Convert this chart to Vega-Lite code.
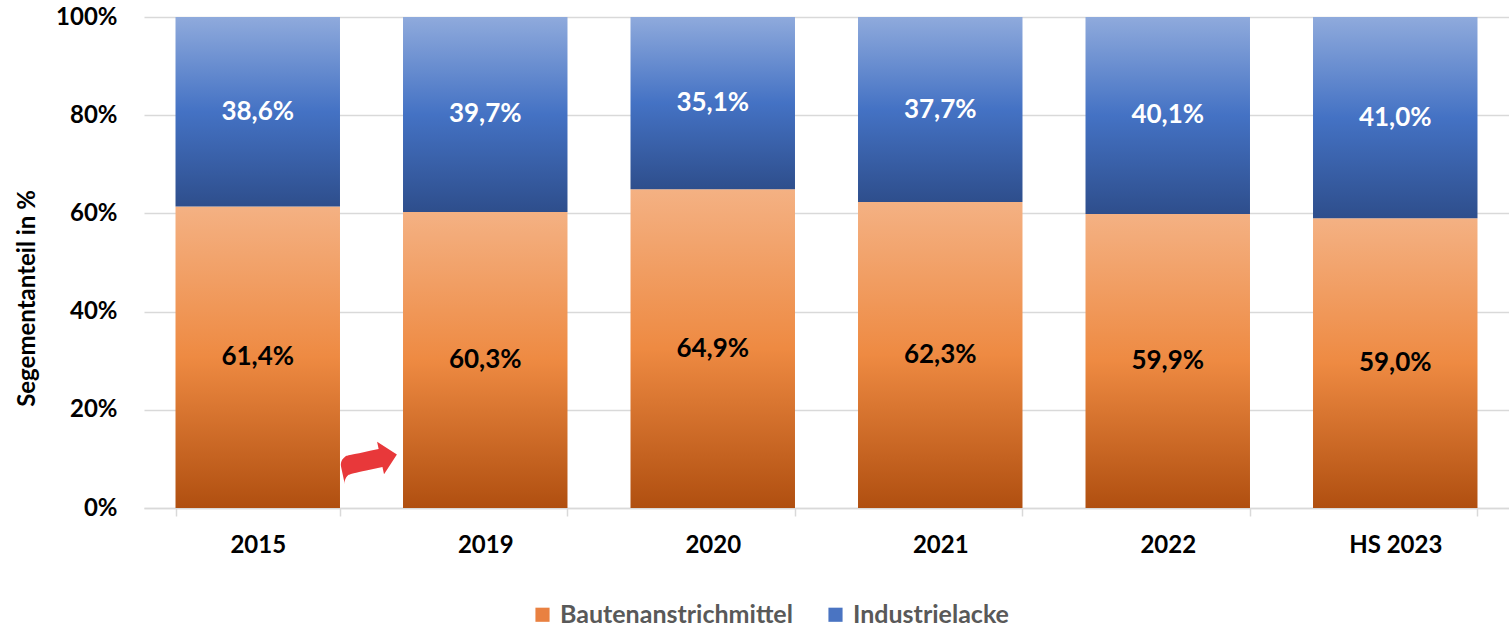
{
  "$schema": "https://vega.github.io/schema/vega-lite/v6.json",
  "width": 1365,
  "height": 491,
  "autosize": {"type": "none"},
  "padding": {"left": 144, "top": 17, "right": 0, "bottom": 121},
  "config": {
    "locale": {"number": {"decimal": ",", "thousands": ".", "grouping": [3], "currency": ["", " €"]}},
    "view": {"stroke": null},
    "font": "Lato"
  },
  "data": {
    "values": [
      {"year": "2015", "series": "Bautenanstrichmittel", "value": 0.614},
      {"year": "2015", "series": "Industrielacke", "value": 0.386},
      {"year": "2019", "series": "Bautenanstrichmittel", "value": 0.603},
      {"year": "2019", "series": "Industrielacke", "value": 0.397},
      {"year": "2020", "series": "Bautenanstrichmittel", "value": 0.649},
      {"year": "2020", "series": "Industrielacke", "value": 0.351},
      {"year": "2021", "series": "Bautenanstrichmittel", "value": 0.623},
      {"year": "2021", "series": "Industrielacke", "value": 0.377},
      {"year": "2022", "series": "Bautenanstrichmittel", "value": 0.599},
      {"year": "2022", "series": "Industrielacke", "value": 0.401},
      {"year": "HS 2023", "series": "Bautenanstrichmittel", "value": 0.590},
      {"year": "HS 2023", "series": "Industrielacke", "value": 0.410}
    ]
  },
  "encoding": {
    "x": {
      "field": "year",
      "type": "nominal",
      "sort": null,
      "scale": {"domain": ["2015", "2019", "2020", "2021", "2022", "HS 2023"], "paddingInner": 0.277, "paddingOuter": 0.1385},
      "axis": {
        "title": null,
        "labelAngle": 0,
        "labelFont": "Lato",
        "labelFontSize": 24,
        "labelFontWeight": "bold",
        "labelColor": "#000000",
        "labelBaseline": "top",
        "labelPadding": 17,
        "domainColor": "#D9D9D9",
        "domainWidth": 1.5,
        "tickColor": "#D9D9D9",
        "tickWidth": 1.5,
        "tickSize": 8,
        "tickBand": "extent",
        "grid": false
      }
    }
  },
  "layer": [
    {
      "mark": {"type": "square", "opacity": 0},
      "encoding": {
        "y": {
          "field": "value",
          "type": "quantitative",
          "scale": {"domain": [0, 1], "nice": false},
          "axis": {
            "title": "Segementanteil in %",
            "values": [0, 0.2, 0.4, 0.6, 0.8, 1],
            "format": ".0%",
            "grid": true,
            "gridColor": "#D9D9D9",
            "gridWidth": 1.5,
            "domain": false,
            "ticks": false,
            "labelFont": "Lato",
            "labelFontSize": 24,
            "labelFontWeight": "bold",
            "labelColor": "#000000",
            "labelPadding": 27,
            "titleFont": "Lato",
            "titleFontSize": 24,
            "titleFontWeight": "bold",
            "titleColor": "#000000",
            "titleAngle": -90,
            "titleX": -117,
            "titleY": 281,
            "titleAlign": "center",
            "titleBaseline": "middle"
          }
        },
        "fill": {
          "field": "series",
          "type": "nominal",
          "scale": {"domain": ["Bautenanstrichmittel", "Industrielacke"], "range": ["#E98141", "#4A74C2"]},
          "legend": {
            "title": null,
            "orient": "none",
            "direction": "horizontal",
            "legendX": 386,
            "legendY": 585,
            "symbolType": "square",
            "symbolSize": 200,
            "symbolStrokeWidth": 0,
            "symbolOpacity": 1,
            "labelFont": "Lato",
            "labelFontSize": 25,
            "labelFontWeight": "bold",
            "labelColor": "#595959",
            "labelOffset": 5,
            "columnPadding": 30,
            "labelLimit": 400
          }
        }
      }
    },
    {
      "transform": [
        {"stack": "value", "groupby": ["year"], "sort": [{"field": "series", "order": "ascending"}], "as": ["y0", "y1"]},
        {"filter": "datum.series === 'Bautenanstrichmittel'"}
      ],
      "mark": {"type": "bar", "color": {"gradient": "linear", "x1": 0, "y1": 0, "x2": 0, "y2": 1, "stops": [{"offset": 0, "color": "#F4B183"}, {"offset": 0.5, "color": "#EE8A42"}, {"offset": 1, "color": "#B04F10"}]}},
      "encoding": {
        "y": {"field": "y0", "type": "quantitative"},
        "y2": {"field": "y1"}
      }
    },
    {
      "transform": [
        {"stack": "value", "groupby": ["year"], "sort": [{"field": "series", "order": "ascending"}], "as": ["y0", "y1"]},
        {"filter": "datum.series === 'Industrielacke'"}
      ],
      "mark": {"type": "bar", "color": {"gradient": "linear", "x1": 0, "y1": 0, "x2": 0, "y2": 1, "stops": [{"offset": 0, "color": "#8FAADC"}, {"offset": 0.5, "color": "#4472C4"}, {"offset": 1, "color": "#2E4E8C"}]}},
      "encoding": {
        "y": {"field": "y0", "type": "quantitative"},
        "y2": {"field": "y1"}
      }
    },
    {
      "transform": [
        {"stack": "value", "groupby": ["year"], "sort": [{"field": "series", "order": "ascending"}], "as": ["y0", "y1"]},
        {"fold": ["y0", "y1"], "as": ["edge", "pos"]},
        {"aggregate": [{"op": "mean", "field": "pos", "as": "mid"}], "groupby": ["year", "series", "value"]}
      ],
      "mark": {"type": "text", "font": "Lato", "fontSize": 26, "fontWeight": "bold", "baseline": "middle", "align": "center"},
      "encoding": {
        "y": {"field": "mid", "type": "quantitative"},
        "text": {"field": "value", "type": "quantitative", "format": ".1%"},
        "color": {
          "condition": {"test": "datum.series === 'Industrielacke'", "value": "#FFFFFF"},
          "value": "#000000"
        }
      }
    },
    {
      "data": {"values": [{"year": "2015", "share": 0.094, "glyph": "➦"}]},
      "mark": {"type": "text", "font": "DejaVu Sans", "fontSize": 78, "angle": -12, "color": "#E8383A", "baseline": "middle", "align": "center"},
      "encoding": {
        "x": {"field": "year", "type": "nominal", "bandPosition": 1.176},
        "y": {"field": "share", "type": "quantitative"},
        "text": {"field": "glyph"}
      }
    }
  ]
}
